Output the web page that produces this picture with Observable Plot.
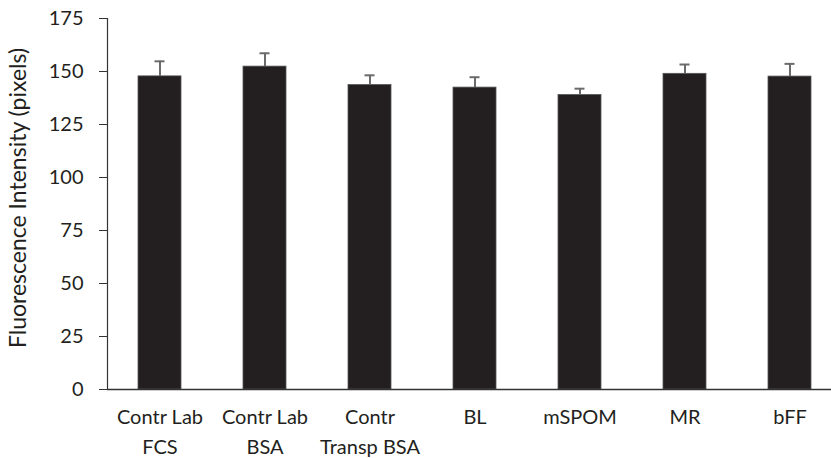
<!DOCTYPE html>
<html>
<head>
<meta charset="utf-8">
<script src="https://cdn.jsdelivr.net/npm/d3@7"></script>
<script src="https://cdn.jsdelivr.net/npm/@observablehq/plot@0.6"></script>
<style>
  html, body { margin: 0; padding: 0; background: #fff; }
</style>
</head>
<body>
<div id="chart"></div>
<script>
const categories = ["Contr Lab\nFCS", "Contr Lab\nBSA", "Contr\nTransp BSA", "BL", "mSPOM", "MR", "bFF"];
const values = [147.7, 152.3, 143.6, 142.4, 138.9, 148.9, 147.6];
const errors = [7.1, 6.3, 4.6, 4.9, 3.0, 4.4, 6.0];
const yTicks = [0, 25, 50, 75, 100, 125, 150, 175];
const yLabel = "Fluorescence Intensity (pixels)";

const data = categories.map((c, i) => ({cat: c, value: values[i], err: errors[i]}));
const ink = "#231f20";

const chart = Plot.plot({
  width: 831,
  height: 458,
  marginLeft: 107,
  marginRight: 0,
  marginTop: 18,
  marginBottom: 69,
  style: {fontFamily: "Lato", fontSize: "20px", color: ink, background: "#fff"},
  x: {type: "band", domain: categories, range: [107.5, 842.5], paddingInner: 0.59, paddingOuter: 0.295},
  y: {domain: [0, 175]},
  marks: [
    Plot.barY(data, {x: "cat", y: "value", fill: ink, stroke: "#555", strokeWidth: 0.8}),
    Plot.ruleX(data, {x: "cat", y1: "value", y2: d => d.value + d.err, stroke: "#6b6b6b", strokeWidth: 2}),
    Plot.tickY(data, {x: "cat", y: d => d.value + d.err, stroke: "#6b6b6b", strokeWidth: 2, insetLeft: 16.5, insetRight: 16.5}),
    Plot.frame({anchor: "left", stroke: "#333", strokeWidth: 1.2}),
    Plot.ruleY([0], {stroke: "#333", strokeWidth: 1.5}),
    Plot.axisY({ticks: yTicks, tickSize: 8, tickPadding: 16, label: null, stroke: "#333", fill: ink, fontSize: 20}),
    Plot.axisX({tickSize: 0, tickPadding: 13, label: null, fill: ink, fontSize: 20, lineHeight: 1.5}),
    Plot.text([yLabel], {frameAnchor: "left", textAnchor: "middle", rotate: -90, dx: -89, dy: -6, fontSize: 23, fill: ink})
  ]
});
document.getElementById("chart").appendChild(chart);
</script>
</body>
</html>
